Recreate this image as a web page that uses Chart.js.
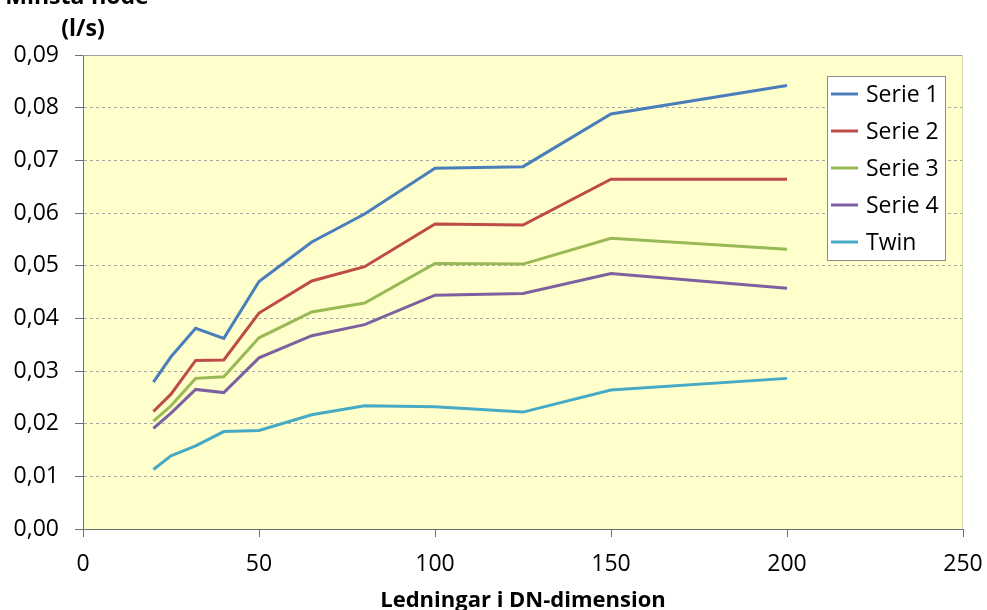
<!DOCTYPE html>
<html>
<head>
<meta charset="utf-8">
<script src="https://cdn.jsdelivr.net/npm/chart.js@4/dist/chart.umd.min.js"></script>
<style>
  html, body { margin: 0; padding: 0; background: #fff; }
  #wrap { width: 987px; height: 610px; }
</style>
</head>
<body>
<div id="wrap"><canvas id="chart" width="987" height="610"></canvas></div>
<script>
// Minsta flöde per DN-dimension
const dnValues = [20, 25, 32, 40, 50, 65, 80, 100, 125, 150, 200];
const serie1 = [0.0279, 0.0327, 0.0381, 0.0362, 0.0470, 0.0545, 0.0598, 0.0685, 0.0688, 0.0788, 0.0842];
const serie2 = [0.0223, 0.0256, 0.0320, 0.0321, 0.0410, 0.0471, 0.0498, 0.0579, 0.0577, 0.0664, 0.0664];
const serie3 = [0.0205, 0.0234, 0.0286, 0.0289, 0.0363, 0.0412, 0.0429, 0.0504, 0.0503, 0.0552, 0.0531];
const serie4 = [0.0191, 0.0220, 0.0265, 0.0259, 0.0325, 0.0367, 0.0388, 0.0444, 0.0447, 0.0485, 0.0457];
const twin   = [0.0113, 0.0139, 0.0158, 0.0185, 0.0187, 0.0217, 0.0234, 0.0232, 0.0222, 0.0264, 0.0286];
const seriesNames = ['Serie 1', 'Serie 2', 'Serie 3', 'Serie 4', 'Twin'];
const seriesColors = ['#4a7ebb', '#be4b48', '#98b954', '#7d60a0', '#46aac5'];
const xTicks = [0, 50, 100, 150, 200, 250];
const yTitleLines = ['Minsta flöde', '(l/s)'];
const xTitle = 'Ledningar i DN-dimension';

const FONT = "'Open Sans', 'DejaVu Sans', sans-serif";
const axisColor = '#707070';

const toPoints = vals => vals.map((v, i) => ({ x: dnValues[i], y: v }));
const allSeries = [serie1, serie2, serie3, serie4, twin];

// plot background + top/right frame
const plotBg = {
  id: 'plotBg',
  beforeDraw(chart) {
    const { ctx, chartArea: a } = chart;
    ctx.save();
    ctx.fillStyle = '#ffffcc';
    ctx.fillRect(a.left, a.top, a.right - a.left, a.bottom - a.top);
    ctx.restore();
  },
  afterDatasetsDraw(chart) {
    const { ctx, chartArea: a } = chart;
    ctx.save();
    ctx.lineWidth = 1;
    ctx.strokeStyle = '#a0a0a0';
    ctx.beginPath();
    ctx.moveTo(a.left, a.top + 0.5);
    ctx.lineTo(a.right - 0.5, a.top + 0.5);
    ctx.stroke();
    ctx.strokeStyle = '#d8d8b0';
    ctx.beginPath();
    ctx.moveTo(a.right - 0.5, a.top);
    ctx.lineTo(a.right - 0.5, a.bottom);
    ctx.stroke();
    ctx.restore();
  }
};

// legend box inside the plot, like Excel
const boxLegend = {
  id: 'boxLegend',
  afterDraw(chart) {
    const { ctx, chartArea: a } = chart;
    const x = a.right - 136, y = a.top + 21, w = 118, h = 184;
    ctx.save();
    ctx.fillStyle = '#fff';
    ctx.fillRect(x, y, w, h);
    ctx.strokeStyle = '#8c8c8c';
    ctx.lineWidth = 1;
    ctx.strokeRect(x + 0.5, y + 0.5, w, h);
    ctx.font = '23px ' + FONT;
    ctx.textBaseline = 'middle';
    ctx.fillStyle = '#000';
    chart.data.datasets.forEach((ds, i) => {
      const cy = y + 18 + i * 37;
      ctx.strokeStyle = ds.borderColor;
      ctx.lineWidth = 3;
      ctx.beginPath();
      ctx.moveTo(x + 4, cy);
      ctx.lineTo(x + 31, cy);
      ctx.stroke();
      ctx.fillText(ds.label, x + 39, cy + 1);
    });
    ctx.restore();
  }
};

// y axis title sits horizontally above the axis
const topTitle = {
  id: 'topTitle',
  afterDraw(chart) {
    const { ctx } = chart;
    ctx.save();
    ctx.font = 'bold 23px ' + FONT;
    ctx.fillStyle = '#000';
    ctx.textAlign = 'center';
    ctx.textBaseline = 'alphabetic';
    ctx.fillText(yTitleLines[0], 77, 4);
    ctx.fillText(yTitleLines[1], 83, 36);
    ctx.restore();
  }
};

new Chart(document.getElementById('chart').getContext('2d'), {
  type: 'line',
  data: {
    datasets: allSeries.map((vals, i) => ({
      label: seriesNames[i],
      data: toPoints(vals),
      borderColor: seriesColors[i],
      backgroundColor: seriesColors[i],
      borderWidth: 3,
      pointRadius: 0,
      tension: 0,
      fill: false
    }))
  },
  options: {
    responsive: false,
    animation: false,
    layout: { padding: { top: 55, right: 24, left: 0, bottom: 0 } },
    plugins: {
      legend: { display: false },
      tooltip: { enabled: false }
    },
    scales: {
      x: {
        type: 'linear',
        min: 0,
        max: 250,
        afterBuildTicks: s => { s.ticks = xTicks.map(v => ({ value: v })); },
        afterFit: s => { s.height = 81; s.paddingLeft = 0; s.paddingRight = 0; },
        ticks: {
          color: '#000',
          font: { family: FONT, size: 23 },
          padding: 14,
          maxRotation: 0
        },
        grid: {
          drawOnChartArea: false,
          drawTicks: true,
          tickLength: 8,
          tickColor: axisColor
        },
        border: { color: axisColor, width: 1 },
        title: {
          display: true,
          text: xTitle,
          color: '#000',
          font: { family: FONT, size: 22, weight: 'bold' },
          padding: { top: 0, bottom: -4 }
        }
      },
      y: {
        min: 0,
        max: 0.09,
        afterFit: s => { s.width = 83; s.paddingTop = 0; s.paddingBottom = 0; },
        ticks: {
          stepSize: 0.01,
          color: '#000',
          font: { family: FONT, size: 23 },
          padding: 16,
          callback: v => v.toFixed(2).replace('.', ',')
        },
        grid: {
          color: '#a8a8a8',
          lineWidth: 1,
          tickLength: 8,
          tickColor: axisColor,
          tickBorderDash: []
        },
        border: { color: axisColor, width: 1, dash: [3, 3] }
      }
    }
  },
  plugins: [plotBg, boxLegend, topTitle]
});
</script>
</body>
</html>
